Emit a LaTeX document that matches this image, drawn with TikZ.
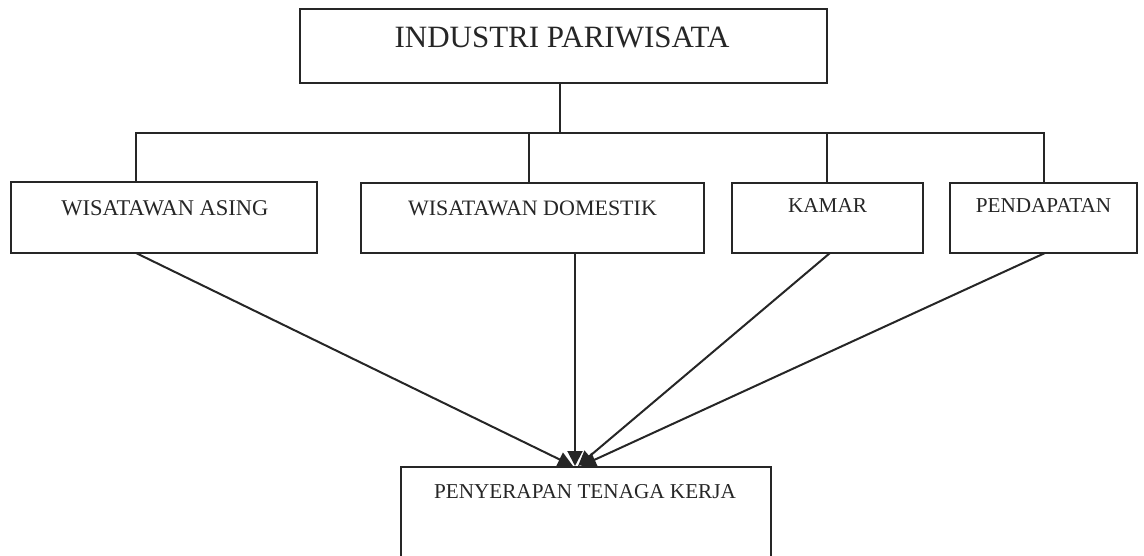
\documentclass[tikz,border=0pt]{standalone}
\usepackage{fontspec}
\setmainfont{Liberation Serif}
\usetikzlibrary{arrows.meta}
\begin{document}
\begin{tikzpicture}[x=1pt,y=1pt,
  box/.style={draw=black!85,line width=2pt,minimum width=#1,inner sep=0pt},
  lbl/.style={anchor=base,inner sep=0pt,text=black!85},
  link/.style={draw=black!85,line width=2pt},
  arr/.style={link,-{Triangle[length=15pt,width=15pt]}}]
\useasboundingbox (0,0) rectangle (1144,555);
% boxes
\node[box=527pt,minimum height=74pt] (top) at (563.5,509) {};
\node[box=306pt,minimum height=71pt] (b1) at (164,337.5) {};
\node[box=343pt,minimum height=70pt] (b2) at (532.5,337) {};
\node[box=191pt,minimum height=70pt] (b3) at (827.5,337) {};
\node[box=187pt,minimum height=70pt] (b4) at (1043.5,337) {};
\node[box=370pt,minimum height=92pt] (bot) at (586,42) {};
% labels
\node[lbl,font=\fontsize{31}{36}\selectfont] (ttop) at (562,507) {INDUSTRI PARIWISATA};
\node[lbl,font=\fontsize{22.5}{26}\selectfont] (t1) at (165,339) {WISATAWAN ASING};
\node[lbl,font=\fontsize{22}{26}\selectfont] (t2) at (532.5,339) {WISATAWAN DOMESTIK};
\node[lbl,font=\fontsize{21.2}{25}\selectfont] (t3) at (827.5,342) {KAMAR};
\node[lbl,font=\fontsize{21.2}{25}\selectfont] (t4) at (1043.5,342) {PENDAPATAN};
\node[lbl,font=\fontsize{21.2}{25}\selectfont] (t5) at (585,57) {PENYERAPAN TENAGA KERJA};
% tree connectors
\coordinate (stem) at (560,422);
\coordinate (hl) at (136,422);
\coordinate (hr) at (1044,422);
\draw[link] (top.south -| stem) -- (stem);
\draw[link] (b1.north -| hl) -- (hl) -- (hr) -- (b4.north -| hr);
\draw[link] (b2.north -| 529,0) -- (529,422);
\draw[link] (b3.north -| 827,0) -- (827,422);
% arrows to bottom box
\coordinate (s1) at (136,302);
\coordinate (s2) at (575,302);
\coordinate (s3) at (830,302);
\coordinate (s4) at (1045,302);
\draw[arr] (s1) -- (bot.north -| 573,0);
\draw[arr] (s2) -- (bot.north -| 575,0);
\draw[arr] (s3) -- (bot.north -| 578,0);
\draw[arr] (s4) -- (bot.north -| 581,0);
\end{tikzpicture}
\end{document}
